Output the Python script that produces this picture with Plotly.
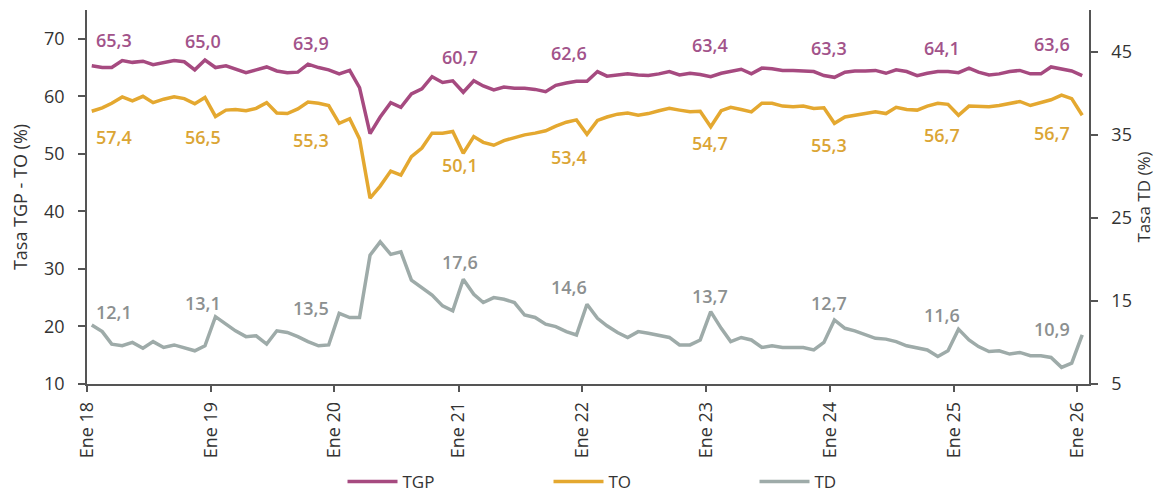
import plotly.graph_objects as go

# ---------------- data (monthly, Ene 2018 - Ene 2026) ----------------
start_year = 2018
n_months = 97

tgp = [65.3, 65.0, 65.0, 66.2, 65.9, 66.1, 65.5, 65.8, 66.2, 66.0, 64.6, 66.3,
       65.0, 65.3, 64.8, 64.1, 64.6, 65.1, 64.4, 64.1, 64.2, 65.6, 65.0, 64.6,
       63.9, 64.5, 61.5, 53.5, 56.4, 58.9, 58.1, 60.4, 61.3, 63.4, 62.4, 62.7,
       60.7, 62.7, 61.8, 61.1, 61.6, 61.4, 61.4, 61.2, 60.8, 61.9, 62.3, 62.6,
       62.6, 64.3, 63.5, 63.7, 63.9, 63.7, 63.6, 63.9, 64.3, 63.7, 64.0, 63.8,
       63.4, 64.0, 64.3, 64.7, 63.9, 64.9, 64.8, 64.5, 64.5, 64.4, 64.3, 63.6,
       63.3, 64.2, 64.4, 64.4, 64.5, 64.0, 64.6, 64.3, 63.6, 64.0, 64.3, 64.3,
       64.1, 64.9, 64.2, 63.7, 63.9, 64.3, 64.5, 63.9, 63.9, 65.1, 64.7, 64.4,
       63.6]

to = [57.4, 58.0, 58.8, 59.9, 59.2, 60.0, 58.9, 59.5, 59.9, 59.6, 58.7, 59.8,
      56.5, 57.6, 57.7, 57.5, 57.9, 58.9, 57.1, 57.0, 57.8, 59.0, 58.8, 58.4,
      55.3, 56.1, 52.6, 42.3, 44.4, 47.0, 46.3, 49.5, 51.0, 53.6, 53.6, 53.9,
      50.1, 53.0, 52.0, 51.5, 52.3, 52.8, 53.3, 53.6, 54.0, 54.8, 55.5, 55.9,
      53.4, 55.8, 56.4, 56.9, 57.1, 56.7, 57.0, 57.5, 57.9, 57.6, 57.3, 57.4,
      54.7, 57.5, 58.1, 57.7, 57.3, 58.8, 58.8, 58.3, 58.2, 58.3, 57.9, 58.0,
      55.3, 56.4, 56.7, 57.0, 57.3, 57.0, 58.1, 57.7, 57.6, 58.3, 58.8, 58.6,
      56.7, 58.3, 58.3, 58.2, 58.4, 58.7, 59.1, 58.4, 58.9, 59.4, 60.2, 59.6,
      56.7]

td = [12.1, 11.3, 9.8, 9.6, 10.0, 9.3, 10.1, 9.4, 9.7, 9.4, 9.0, 9.6,
      13.1, 12.2, 11.4, 10.7, 10.8, 9.8, 11.4, 11.2, 10.7, 10.1, 9.6, 9.7,
      13.5, 13.0, 13.0, 20.5, 22.1, 20.6, 20.9, 17.5, 16.6, 15.7, 14.4, 13.8,
      17.6, 15.8, 14.8, 15.4, 15.2, 14.8, 13.3, 13.0, 12.2, 11.9, 11.3, 10.9,
      14.6, 12.9, 12.0, 11.2, 10.6, 11.3, 11.1, 10.8, 10.6, 9.7, 9.7, 10.3,
      13.7, 11.7, 10.1, 10.6, 10.3, 9.4, 9.6, 9.4, 9.4, 9.4, 9.1, 10.0,
      12.7, 11.7, 11.4, 10.9, 10.5, 10.4, 10.1, 9.6, 9.3, 9.1, 8.3, 9.0,
      11.6, 10.3, 9.5, 8.9, 9.0, 8.6, 8.8, 8.4, 8.4, 8.2, 7.0, 7.5,
      10.9]

tick_labels = ["Ene 18", "Ene 19", "Ene 20", "Ene 21", "Ene 22",
               "Ene 23", "Ene 24", "Ene 25", "Ene 26"]
left_ticks = [10, 20, 30, 40, 50, 60, 70]
right_ticks = [5, 15, 25, 35, 45]

# ---------------- label placement (pixel offsets, styling only) -------
label_dx = [22, -12, -28, -3, -18, -1, -5, -17, -30]
tgp_dy = [26, 27, 31, 35, 28, 32, 29, 25, 32]        # above
to_dy = [-26, -21, -17, -12, -23, -16, -22, -20, -18]  # below
td_dy = [13, 14, 5, 17, 17, 16, 17, 14, 6]            # above

# ---------------- build ----------------
dates = [f"{start_year + m // 12}-{m % 12 + 1:02d}-15" for m in range(n_months)]
tick_vals = [f"{start_year + k}-01-01" for k in range(len(tick_labels))]

C_TGP = "#A64A80"
C_TO = "#E4A830"
C_TD = "#9EABA9"
L_TGP = "#A2538A"
L_TO = "#DBA535"
L_TD = "#8C9090"
AX = "#555555"
FONT = "Open Sans"

fig = go.Figure()
fig.add_trace(go.Scatter(x=dates, y=tgp, name="TGP", mode="lines",
                         line=dict(color=C_TGP, width=3.5)))
fig.add_trace(go.Scatter(x=dates, y=to, name="TO", mode="lines",
                         line=dict(color=C_TO, width=3.5)))
fig.add_trace(go.Scatter(x=dates, y=td, name="TD", mode="lines", yaxis="y2",
                         line=dict(color=C_TD, width=3.5)))

annotations = []
for k in range(len(tick_labels)):
    i = 12 * k
    for series, dy, col, yref in ((tgp, tgp_dy, L_TGP, "y"),
                                  (to, to_dy, L_TO, "y"),
                                  (td, td_dy, L_TD, "y2")):
        annotations.append(dict(
            x=dates[i], y=series[i], xref="x", yref=yref,
            text=f"{series[i]:.1f}".replace(".", ","),
            showarrow=False, xshift=label_dx[k], yshift=dy[k],
            font=dict(family=FONT, size=18, color=col, weight=600)))

# page has an 8px body margin: the figure is sized to fit the window
fig.update_layout(
    width=1155, height=485,
    margin=dict(l=79, r=74, t=2, b=109, autoexpand=False),
    paper_bgcolor="white", plot_bgcolor="white",
    font=dict(family=FONT, size=16, color="#333333"),
    showlegend=True,
    legend=dict(orientation="h", x=0.255, xanchor="left", y=-0.262,
                yanchor="middle", entrywidth=141, entrywidthmode="pixels",
                itemwidth=50, font=dict(size=17, color="#333333"),
                bgcolor="rgba(0,0,0,0)"),
    annotations=annotations,
    xaxis=dict(type="date", range=["2018-01-01", "2026-02-04"],
               tickvals=tick_vals, ticktext=tick_labels, tickangle=-90,
               showline=True, linecolor=AX, linewidth=1.5,
               ticks="outside", ticklen=6, tickcolor=AX, tickwidth=1.5,
               showgrid=False, zeroline=False, automargin=False,
               ticklabelstandoff=3,
               tickfont=dict(size=18, color="#333333")),
    yaxis=dict(range=[10, 75], tickvals=left_ticks,
               showline=True, linecolor=AX, linewidth=1.5,
               ticks="outside", ticklen=7, tickcolor=AX, tickwidth=1.5,
               showgrid=False, zeroline=False, automargin=False,
               ticklabelstandoff=10,
               title=dict(text="Tasa TGP - TO (%)", font=dict(size=18),
                          standoff=17),
               tickfont=dict(size=18, color="#333333")),
    yaxis2=dict(range=[5, 50], tickvals=right_ticks, overlaying="y",
                side="right", anchor="x",
                showline=True, linecolor=AX, linewidth=1.5,
                ticks="outside", ticklen=7, tickcolor=AX, tickwidth=1.5,
                showgrid=False, zeroline=False, automargin=False,
                ticklabelstandoff=10,
                title=dict(text="Tasa TD (%)", font=dict(size=17),
                           standoff=5),
                tickfont=dict(size=18, color="#333333")),
)

fig.write_html("out.html")
